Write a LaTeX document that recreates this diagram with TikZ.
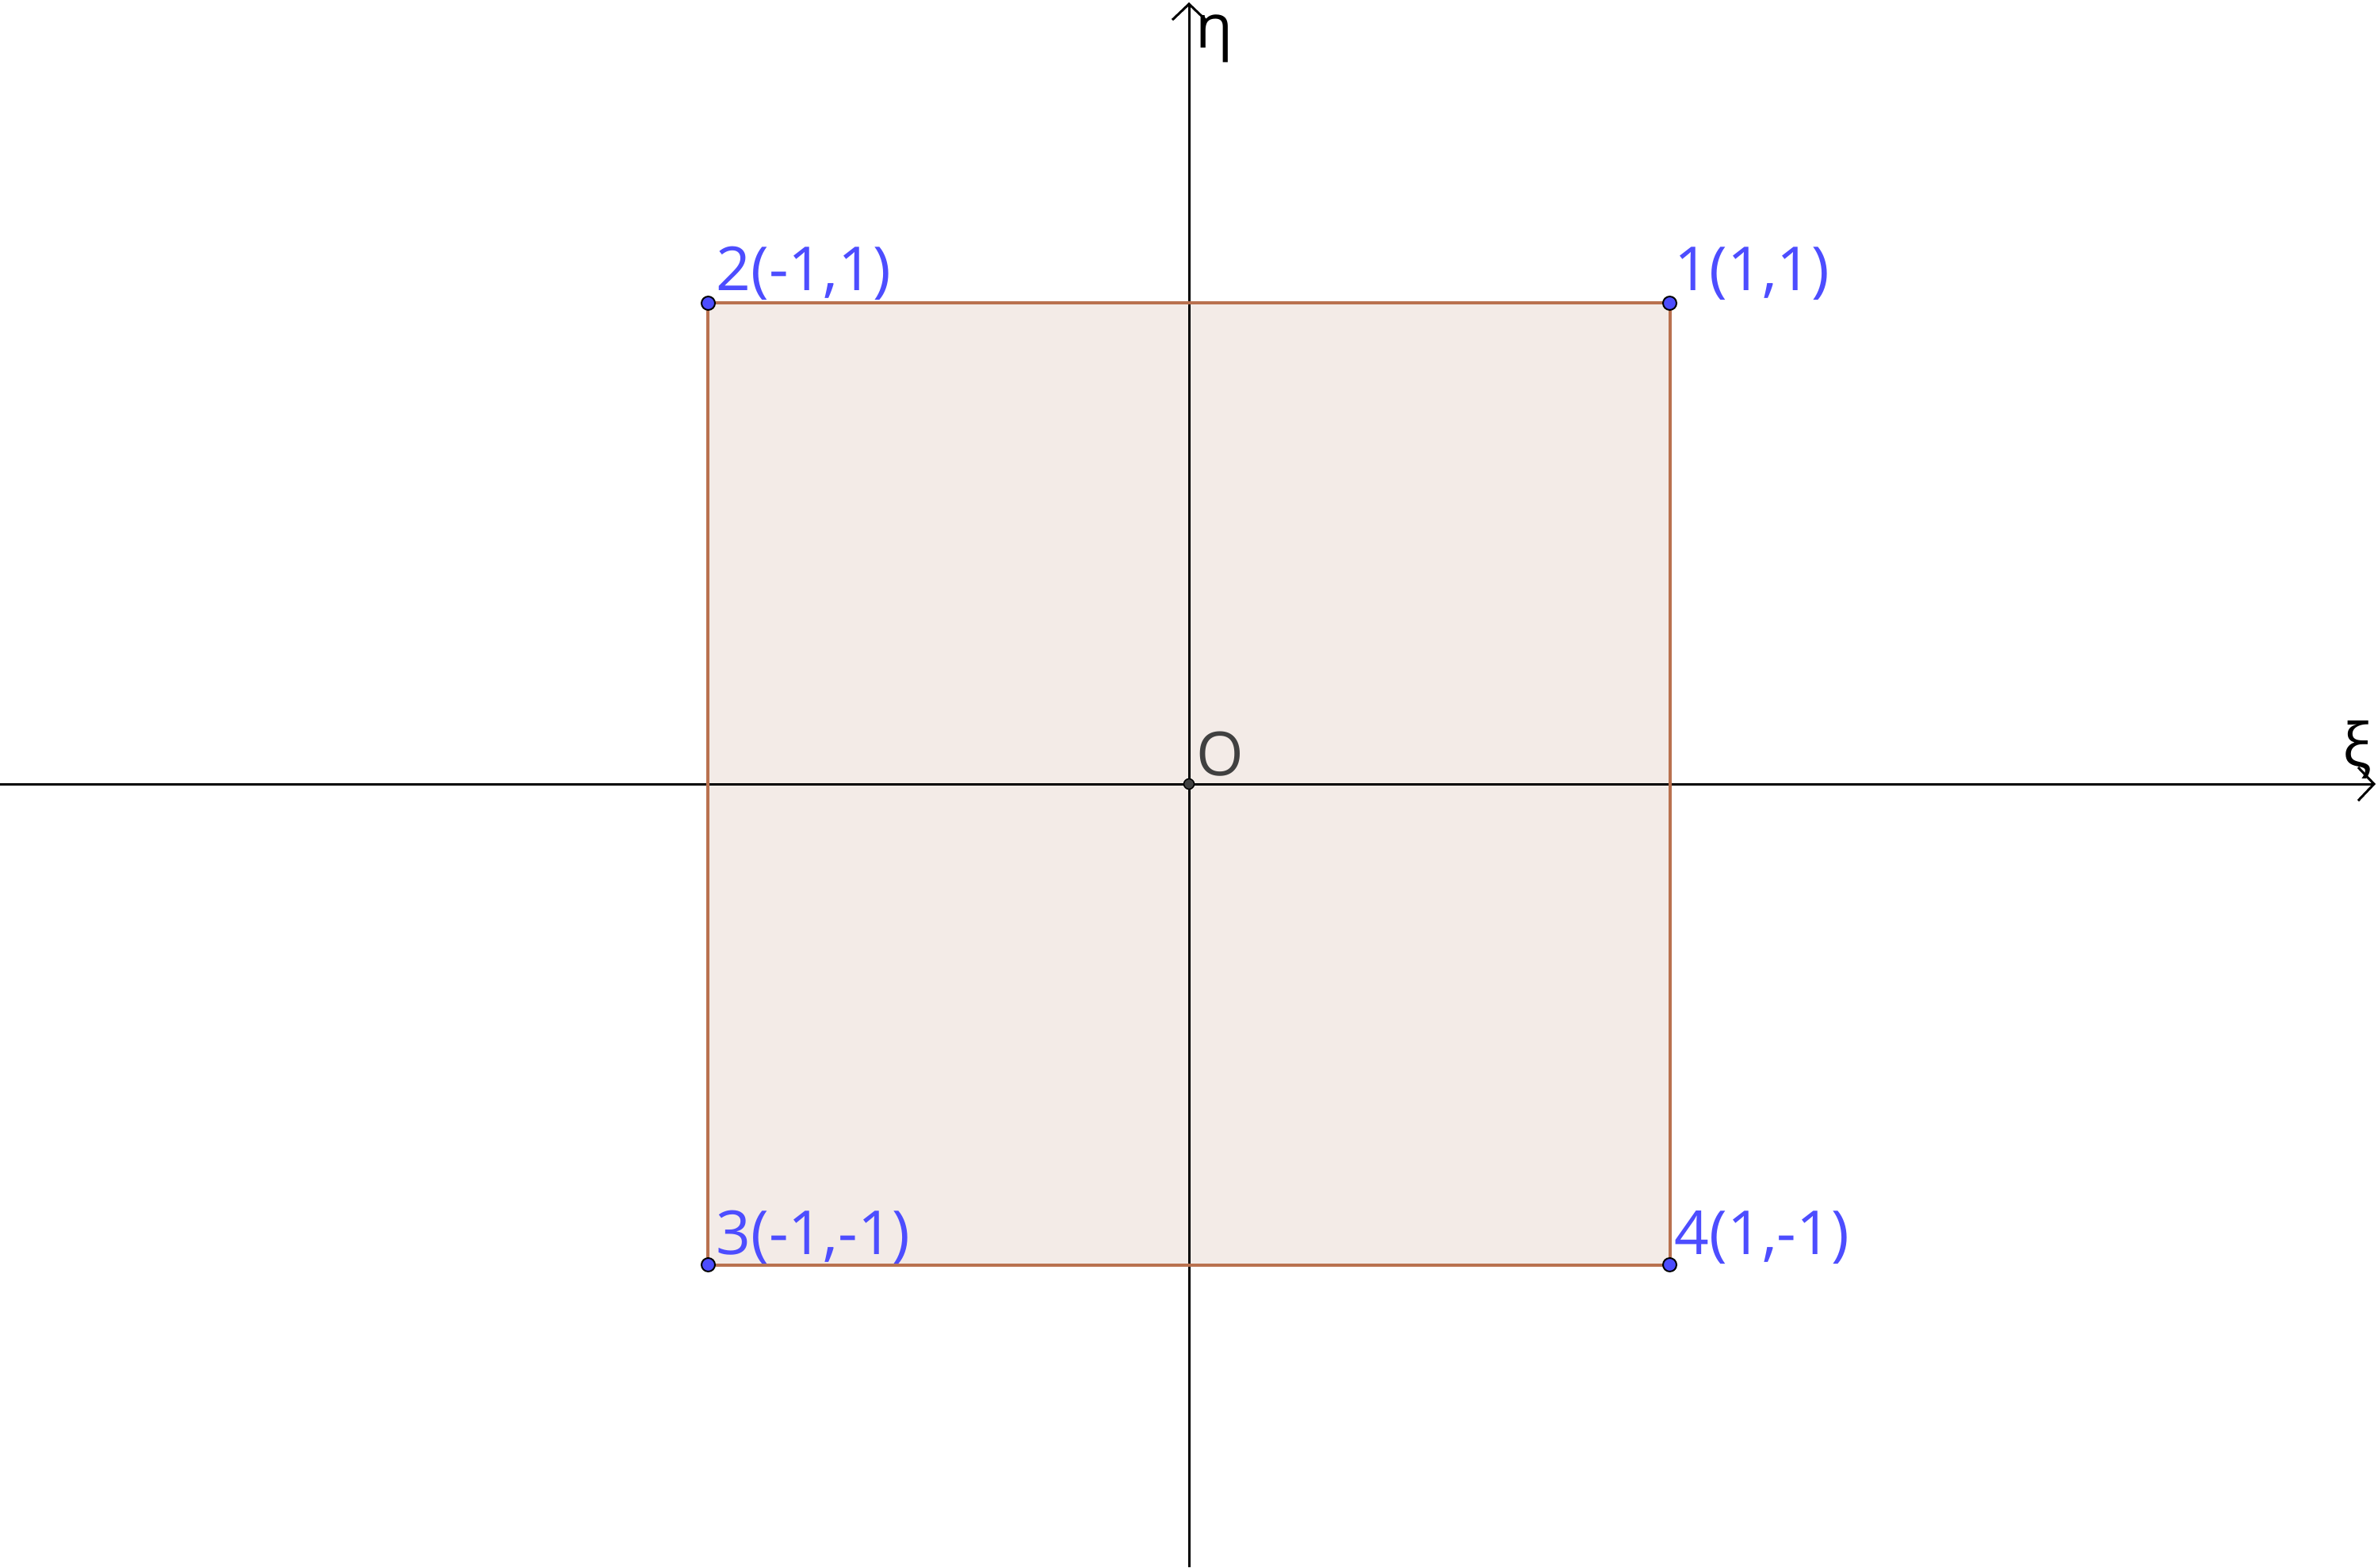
\documentclass[tikz,border=0pt]{standalone}
\usepackage{fontspec}
\setmainfont{Open Sans}
\usetikzlibrary{arrows.meta}
\definecolor{ptblue}{HTML}{4D4DFF}
\definecolor{edgebrown}{HTML}{B9714F}
\definecolor{fillbrown}{HTML}{F3EBE7}
\definecolor{ogray}{HTML}{404040}
\tikzset{
  axis/.style={line width=0.03cm, -{Straight Barb[length=0.2cm,width=0.42cm,line width=0.03cm]}},
  pt/.style={circle, fill=ptblue, draw=black, line width=0.02cm, inner sep=0pt, minimum size=0.17cm},
  opt/.style={circle, fill=ogray, draw=black, line width=0.015cm, inner sep=0pt, minimum size=0.13cm},
  lab/.style={anchor=base west, inner sep=0pt, text=ptblue, font=\fontsize{21.8}{26}\selectfont},
  axlab/.style={anchor=base west, inner sep=0pt, font=\fontsize{21.8}{26}\selectfont},
}
\begin{document}
\begin{tikzpicture}
\useasboundingbox (-15,-9.88) rectangle (15,9.89);
\coordinate (c1) at (6.065,6.065);
\coordinate (c2) at (-6.065,6.065);
\coordinate (c3) at (-6.065,-6.065);
\coordinate (c4) at (6.065,-6.065);
\fill[fillbrown] (c1) -- (c2) -- (c3) -- (c4) -- cycle;
\coordinate (xs) at (-15,0);
\coordinate (xe) at (14.97,0);
\coordinate (ys) at (0,-9.88);
\coordinate (ye) at (0,9.86);
\draw[axis] (xs) -- (xe);
\draw[axis] (ys) -- (ye);
\draw[edgebrown, line width=0.04cm] (c1) -- (c2) -- (c3) -- (c4) -- cycle;
\node[pt] (p1) at (c1) {};
\node[pt] (p2) at (c2) {};
\node[pt] (p3) at (c3) {};
\node[pt] (p4) at (c4) {};
\node[opt] (o) at (0,0) {};
\node[lab] (l1) at (6.12,6.22) {1(1,1)};
\node[lab] (l2) at (-5.97,6.22) {2(-1,1)};
\node[lab] (l3) at (-5.97,-5.93) {3(-1,-1)};
\node[lab] (l4) at (6.12,-5.93) {4(1,-1)};
\node[axlab, text=ogray] (lo) at (0.09,0.11) {O};
\node[axlab] (leta) at (0.08,9.28) {η};
\node[axlab] (lxi) at (14.55,0.22) {ξ};
\end{tikzpicture}
\end{document}
